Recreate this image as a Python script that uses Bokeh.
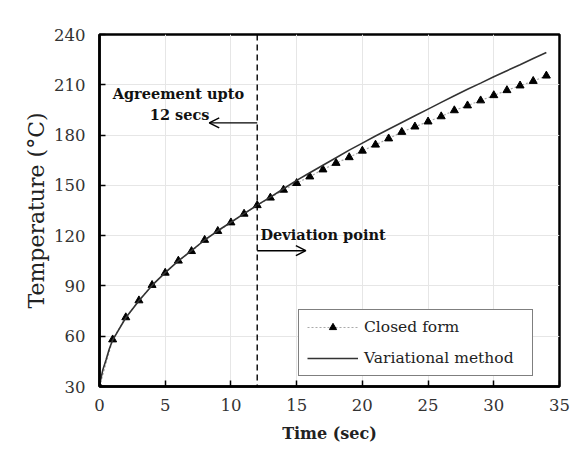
from bokeh.plotting import figure
from bokeh.models import Span, Arrow, OpenHead, Label, Legend, LegendItem, FixedTicker
from bokeh.embed import file_html
from bokeh.resources import INLINE

# ---- data ----
t_closed = list(range(0, 35))
T_closed = [30, 58, 71.2, 81.3, 90.5, 97.8, 105, 110.7, 117.4, 122.7, 127.8, 133,
            138.1, 142.6, 147.3, 151.3, 155.2, 159.4, 163.3, 166.7, 170.6, 174.2,
            177.9, 181.8, 185, 188, 191.1, 194.7, 197.6, 200.6, 203.7, 206.7,
            209.5, 212.2, 215.4]

t_var = [0, 0.1, 0.25, 0.5, 0.75, 1, 2, 3, 4, 5, 6, 7, 8, 9, 10, 11, 12, 13, 14, 15,
         16, 17, 18, 19, 20, 21, 22, 23, 24, 25, 26, 27, 28, 29, 30, 31, 32, 33, 34]
T_var = [30, 34.5, 39.8, 45.9, 52.5, 57.7, 71, 81.2, 90.3, 97.9, 105, 111, 117.4, 122.9,
         128, 133.1, 138.2, 143, 148, 153, 157.5, 162, 166.5, 171, 175.2, 179.4, 183.5,
         187.5, 191.5, 195.5, 199.5, 203.5, 207.3, 211, 214.8, 218.4, 222, 225.7, 229.3]

x_ticks = [0, 5, 10, 15, 20, 25, 30, 35]
y_ticks = [30, 60, 90, 120, 150, 180, 210, 240]

split_t = 12
annot_left = ["Agreement upto", "12 secs"]
annot_right = "Deviation point"

FONT = "DejaVu Serif"

p = figure(width=571, height=460, output_backend="svg", toolbar_location=None,
           x_range=(0, 35), y_range=(30, 240),
           min_border_left=99, min_border_right=12, min_border_top=34, min_border_bottom=74)

p.outline_line_color = "black"
p.outline_line_width = 2.5

for ax in (p.xaxis[0], p.yaxis[0]):
    ax.axis_line_color = "black"
    ax.axis_line_width = 2.5
    ax.major_tick_in = 6
    ax.major_tick_out = 0
    ax.major_tick_line_color = "black"
    ax.major_tick_line_width = 1.5
    ax.minor_tick_line_color = None
    ax.major_label_text_font = FONT
    ax.major_label_text_font_size = "16.5px"
    ax.major_label_text_color = "#333333"
    ax.axis_label_text_font = FONT
    ax.axis_label_text_color = "#222222"

p.xaxis.ticker = FixedTicker(ticks=x_ticks)
p.yaxis.ticker = FixedTicker(ticks=y_ticks)
p.xaxis.axis_label = "Time (sec)"
p.xaxis.axis_label_text_font_style = "bold"
p.xaxis.axis_label_text_font_size = "16px"
p.yaxis.axis_label = "Temperature (°C)"
p.yaxis.axis_label_text_font_style = "normal"
p.yaxis.axis_label_text_font_size = "22px"
p.xaxis.major_label_standoff = 12
p.yaxis.major_label_standoff = 14
p.xaxis.axis_label_standoff = 10
p.yaxis.axis_label_standoff = 2

p.grid.grid_line_color = "#e6e6e6"
p.grid.grid_line_width = 1

# series
l_closed = p.line(t_closed, T_closed, line_color="#aaaaaa", line_dash="2 2", line_width=1.2)
s_closed = p.scatter(t_closed, T_closed, marker="triangle", size=8, color="black")
l_var = p.line(t_var, T_var, line_color="#333333", line_width=1.6)

# dashed vertical line
p.add_layout(Span(location=split_t, dimension="height", line_color="black",
                  line_dash="6 4", line_width=1.4))

# arrows
p.add_layout(Arrow(x_start=split_t, y_start=187.3, x_end=8.35, y_end=187.3,
                   line_color="black", line_width=1.3,
                   end=OpenHead(size=10, line_color="black", line_width=1.4)))
p.add_layout(Arrow(x_start=split_t, y_start=111, x_end=15.7, y_end=111,
                   line_color="black", line_width=1.3,
                   end=OpenHead(size=10, line_color="black", line_width=1.4)))

# annotation texts
p.add_layout(Label(x=6, y=205, text=annot_left[0], text_font=FONT, text_font_style="bold",
                   text_font_size="14.5px", text_align="center", text_baseline="middle",
                   text_color="#111111"))
p.add_layout(Label(x=6.1, y=192, text=annot_left[1], text_font=FONT, text_font_style="bold",
                   text_font_size="14.5px", text_align="center", text_baseline="middle",
                   text_color="#111111"))
p.add_layout(Label(x=12.25, y=120.8, text=annot_right, text_font=FONT, text_font_style="bold",
                   text_font_size="14.5px", text_align="left", text_baseline="middle",
                   text_color="#111111"))

legend = Legend(items=[LegendItem(label="Closed form", renderers=[l_closed, s_closed]),
                       LegendItem(label="Variational method", renderers=[l_var])],
                location=(199, 10), margin=0, padding=8, spacing=13,
                glyph_width=51, glyph_height=18, label_standoff=6, label_width=160,
                label_text_font=FONT, label_text_font_size="15.5px",
                label_text_color="#222222",
                border_line_color="black", border_line_width=1.8,
                background_fill_color="white", background_fill_alpha=1)
p.add_layout(legend)

open("out.html", "w").write(file_html(p, INLINE))
